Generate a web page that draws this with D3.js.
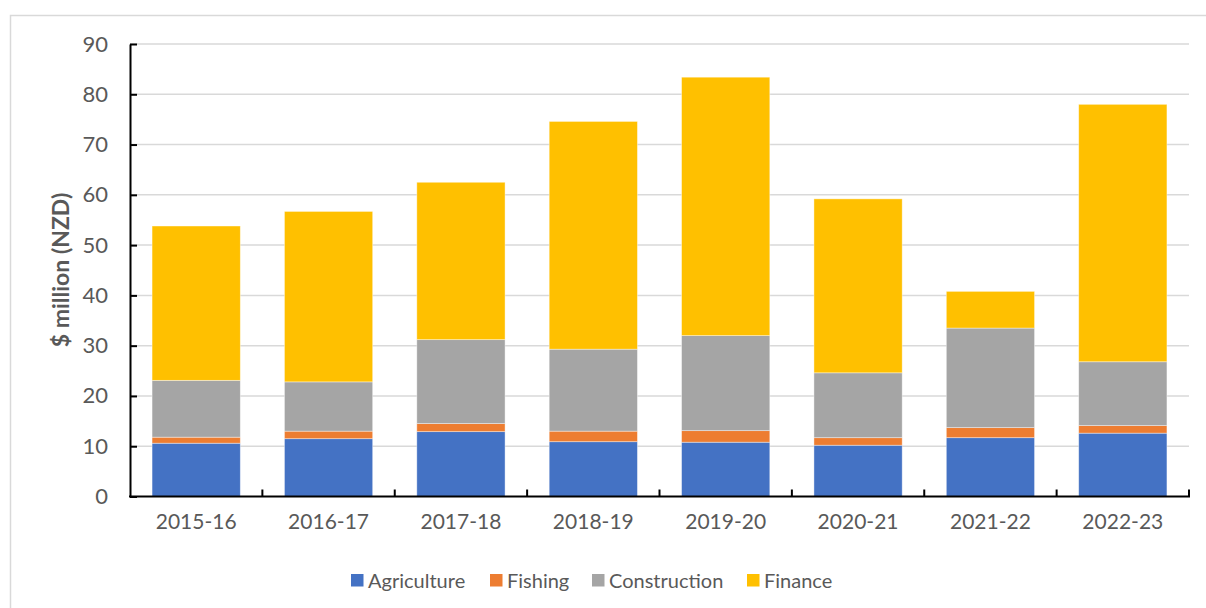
<!DOCTYPE html>
<html>
<head>
<meta charset="utf-8">
<script src="https://cdn.jsdelivr.net/npm/d3@7"></script>
<style>
  html, body { margin: 0; padding: 0; background: #fff; }
  svg { display: block; }
  text { font-family: Lato, "Open Sans", sans-serif; fill: #595959; }
</style>
</head>
<body>
<svg id="chart" width="1206" height="608"></svg>
<script>
const categories = ["2015-16", "2016-17", "2017-18", "2018-19", "2019-20", "2020-21", "2021-22", "2022-23"];
const seriesNames = ["Agriculture", "Fishing", "Construction", "Finance"];
const agriculture  = [10.6, 11.5, 12.9, 10.9, 10.8, 10.2, 11.7, 12.6];
const fishing      = [1.2, 1.5, 1.6, 2.1, 2.3, 1.5, 2.0, 1.5];
const construction = [11.3, 9.8, 16.7, 16.3, 18.9, 12.9, 19.8, 12.7];
const finance      = [30.7, 33.9, 31.3, 45.3, 51.4, 34.6, 7.3, 51.2];
const yTicks = [0, 10, 20, 30, 40, 50, 60, 70, 80, 90];
const colors = ["#4472C4", "#ED7D31", "#A5A5A5", "#FFC000"];
const yAxisTitle = "$ million (NZD)";

const table = categories.map((c, i) => ({
  category: c,
  Agriculture: agriculture[i],
  Fishing: fishing[i],
  Construction: construction[i],
  Finance: finance[i]
}));

const svg = d3.select("#chart");
const plotLeft = 130, plotRight = 1189, plotTop = 44, plotBottom = 496.5;

// outer chart border
svg.append("rect").attr("x", 10.5).attr("y", 15.5).attr("width", 1300).attr("height", 700)
  .attr("fill", "none").attr("stroke", "#d9d9d9").attr("stroke-width", 1.5);

const x = d3.scaleBand().domain(categories).range([plotLeft, plotRight]).paddingInner(1/3).paddingOuter(1/6);
const y = d3.scaleLinear().domain([0, 90]).range([plotBottom, plotTop]);

// gridlines
svg.append("g").selectAll("line").data(yTicks.filter(t => t > 0)).join("line")
  .attr("x1", plotLeft).attr("x2", plotRight)
  .attr("y1", d => y(d)).attr("y2", d => y(d))
  .attr("stroke", "#d9d9d9").attr("stroke-width", 1.5);

// stacked bars
const stack = d3.stack().keys(seriesNames)(table);
const colorScale = d3.scaleOrdinal().domain(seriesNames).range(colors);
svg.append("g").selectAll("g").data(stack).join("g")
  .attr("fill", d => colorScale(d.key))
  .selectAll("rect").data(d => d).join("rect")
  .attr("x", d => x(d.data.category))
  .attr("width", x.bandwidth())
  .attr("y", d => y(d[1]))
  .attr("height", d => y(d[0]) - y(d[1]))
  .attr("stroke", "#ffffff").attr("stroke-opacity", 0.5).attr("stroke-width", 0.8);

// y axis
const yAxis = d3.axisLeft(y).tickValues(yTicks).tickSizeInner(-7).tickSizeOuter(0).tickPadding(22);
const gy = svg.append("g").attr("transform", `translate(${plotLeft},0)`).call(yAxis);
gy.select(".domain").attr("stroke", "#000").attr("stroke-width", 2);
gy.selectAll(".tick line").attr("stroke", "#000").attr("stroke-width", 2);
gy.selectAll(".tick text").style("font-size", "22px").style("font-family", "Lato, 'Open Sans', sans-serif").attr("fill", "#595959");

// x axis with boundary ticks
const xAxisG = svg.append("g").attr("transform", `translate(0,${plotBottom})`);
xAxisG.append("line").attr("x1", plotLeft - 1).attr("x2", plotRight + 1).attr("y1", 0).attr("y2", 0)
  .attr("stroke", "#000").attr("stroke-width", 2);
const boundaries = categories.map(c => x(c) + x.bandwidth() + x.step() * x.paddingInner() / 2);
xAxisG.selectAll("line.bt").data(boundaries).join("line").attr("class", "bt")
  .attr("x1", d => d).attr("x2", d => d).attr("y1", 0).attr("y2", -7)
  .attr("stroke", "#000").attr("stroke-width", 2);
xAxisG.selectAll("text").data(categories).join("text")
  .attr("x", d => x(d) + x.bandwidth() / 2).attr("y", 32)
  .attr("text-anchor", "middle").style("font-size", "21px").text(d => d);

// y axis title
svg.append("text")
  .attr("transform", "translate(69,270) rotate(-90)")
  .attr("text-anchor", "middle")
  .style("font-size", "23px").style("font-weight", "bold")
  .text(yAxisTitle);

// legend
const legendX = [351, 490, 592, 747];
const lg = svg.append("g");
seriesNames.forEach((s, i) => {
  lg.append("rect").attr("x", legendX[i]).attr("y", 574).attr("width", 12.5).attr("height", 12.5)
    .attr("fill", colors[i]);
  lg.append("text").attr("x", legendX[i] + 17).attr("y", 588)
    .style("font-size", "20px").text(s);
});
</script>
</body>
</html>
